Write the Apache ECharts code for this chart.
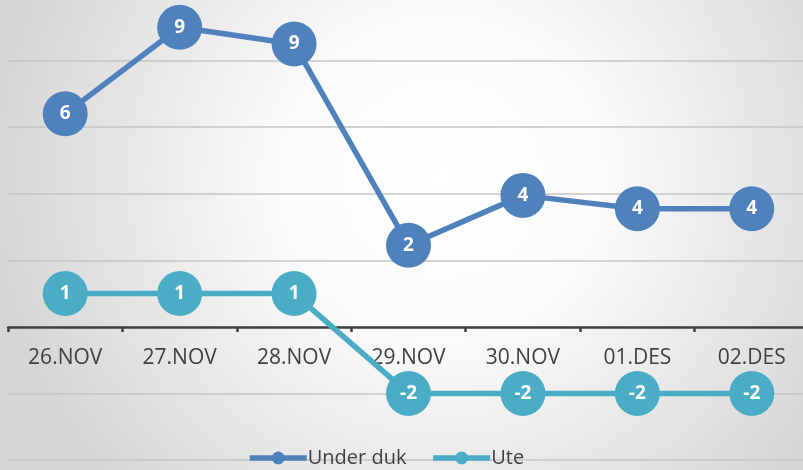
<!DOCTYPE html>
<html><head><meta charset="utf-8">
<script src="https://cdn.jsdelivr.net/npm/echarts@6/dist/echarts.min.js"></script>
<style>html,body{margin:0;padding:0;}#c{width:803px;height:470px;}</style>
</head><body><div id="c"></div>
<script>
const categories = ['26.NOV','27.NOV','28.NOV','29.NOV','30.NOV','01.DES','02.DES'];
const underDuk = [6.4, 9.0, 8.5, 2.45, 3.95, 3.55, 3.55];
const ute = [1, 1, 1, -2, -2, -2, -2];
const seriesNames = ['Under duk', 'Ute'];
const colors = ['#4F81BD', '#4BACC6'];

const chart = echarts.init(document.getElementById('c'), null, {renderer:'canvas'});
const font = '"Open Sans", sans-serif';
function mk(name, data, color){
  return {
    name: name, type: 'line', data: data,
    symbol: 'circle', symbolSize: 45,
    lineStyle: {color: color, width: 5.5},
    itemStyle: {color: color},
    label: {show: true, position: 'inside', color: '#fff', fontWeight: 'bold',
      fontSize: 19, fontFamily: font,
      formatter: p => String(Math.round(p.value))},
    emphasis: {disabled: true},
    animation: false
  };
}
chart.setOption({
  backgroundColor: {type:'radial', x:0.55, y:0.38, r:0.95,
    colorStops:[{offset:0,color:'#ffffff'},{offset:0.35,color:'#fbfbfb'},{offset:1,color:'#d6d6d6'}]},
  animation: false,
  grid: {left: 8, right: -6, top: -6, bottom: 10, containLabel: false, outerBoundsMode: 'none'},
  legend: {
    data: seriesNames, bottom: -3, left: 242,
    itemWidth: 57, itemHeight: 16, itemGap: 24,
    lineStyle: {width: 5.5},
    textStyle: {fontSize: 20, color: '#404040', fontFamily: font, padding:[0,0,0,-4]}
  },
  xAxis: {
    type: 'category', data: categories, boundaryGap: true,
    position: 'bottom', offset: -133,
    axisLine: {onZero: false, lineStyle: {color: '#404040', width: 2.5}},
    axisTick: {show: true, length: 5, lineStyle: {color: '#404040', width: 2.5}},
    axisLabel: {color: '#404040', fontSize: 21, fontFamily: font, margin: 21},
    z: 1
  },
  yAxis: {
    type: 'value', min: -4, max: 10, interval: 2,
    axisLine: {show: false}, axisTick: {show: false}, axisLabel: {show: false},
    splitLine: {lineStyle: {color: '#c6c6c6', width: 1.5}}
  },
  series: [mk(seriesNames[0], underDuk, colors[0]), mk(seriesNames[1], ute, colors[1])]
});
</script></body></html>
